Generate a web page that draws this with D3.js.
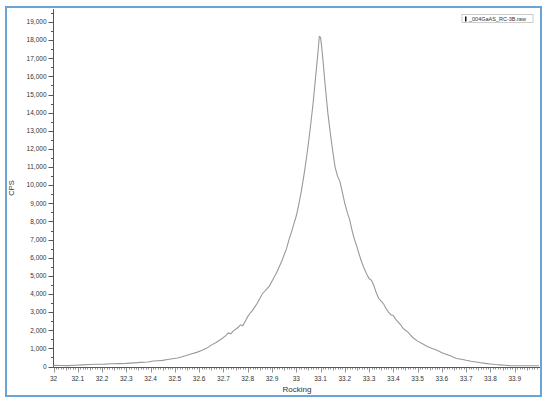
<!DOCTYPE html>
<html>
<head>
<meta charset="utf-8">
<script src="https://cdn.jsdelivr.net/npm/d3@7"></script>
<style>
  body { margin: 0; background: #fff; }
  svg text { font-family: "Liberation Sans", Arial, sans-serif; fill: #333; }
</style>
</head>
<body>
<svg id="chart" width="549" height="402"></svg>
<script>
// rocking curve: angle (deg) and counts
const angle = [32.00, 32.03, 32.06, 32.09, 32.12, 32.15, 32.18, 32.21, 32.24, 32.27,
  32.30, 32.33, 32.36, 32.39, 32.41, 32.43, 32.45, 32.47, 32.49, 32.51,
  32.53, 32.55, 32.57, 32.59, 32.61, 32.63, 32.65, 32.67, 32.69, 32.71,
  32.72, 32.73, 32.74, 32.76, 32.77, 32.78, 32.79, 32.80, 32.81, 32.82,
  32.83, 32.84, 32.85, 32.86, 32.87, 32.88, 32.89, 32.90, 32.91, 32.92,
  32.93, 32.94, 32.95, 32.96, 32.97, 32.98, 32.99, 33.00, 33.01, 33.02,
  33.03, 33.04, 33.05, 33.06, 33.07, 33.08, 33.09, 33.095, 33.10, 33.105,
  33.11, 33.12, 33.13, 33.14, 33.15, 33.16, 33.17, 33.18, 33.19, 33.20,
  33.21, 33.22, 33.23, 33.24, 33.25, 33.26, 33.27, 33.28, 33.29, 33.30,
  33.31, 33.32, 33.33, 33.34, 33.35, 33.36, 33.37, 33.38, 33.39, 33.40,
  33.41, 33.42, 33.43, 33.44, 33.45, 33.46, 33.47, 33.48, 33.50, 33.52,
  33.54, 33.56, 33.58, 33.60, 33.62, 33.64, 33.66, 33.68, 33.70, 33.72,
  33.74, 33.76, 33.78, 33.80, 33.82, 33.84, 33.86, 33.88, 33.90, 33.93,
  33.96, 34.00];
const cps = [60, 55, 50, 70, 90, 110, 120, 130, 150, 160,
  175, 200, 230, 250, 300, 320, 340, 390, 430, 470,
  540, 620, 700, 780, 880, 1000, 1180, 1320, 1500, 1700,
  1850, 1800, 1950, 2150, 2300, 2250, 2500, 2750, 2950, 3100,
  3300, 3500, 3750, 4000, 4150, 4300, 4450, 4700, 4950, 5200,
  5500, 5800, 6150, 6500, 7000, 7400, 7850, 8300, 8900, 9600,
  10400, 11300, 12300, 13400, 14600, 16000, 17400, 18200, 18150, 17600,
  16900, 15400, 14000, 12900, 11900, 11000, 10500, 10200, 9600, 9000,
  8500, 8100, 7500, 7000, 6600, 6150, 5750, 5400, 5100, 4850,
  4750, 4450, 4050, 3750, 3600, 3450, 3200, 3000, 2850, 2800,
  2600, 2450, 2300, 2100, 2000, 1900, 1750, 1600, 1400, 1250,
  1100, 990, 900, 760, 660, 560, 440, 400, 340, 290,
  250, 210, 170, 140, 110, 90, 70, 50, 40, 40,
  45, 40];
const xTickLabels = ["32", "32.1", "32.2", "32.3", "32.4", "32.5", "32.6", "32.7", "32.8", "32.9",
  "33", "33.1", "33.2", "33.3", "33.4", "33.5", "33.6", "33.7", "33.8", "33.9"];
const yTicks = d3.range(0, 19001, 1000);
const legendName = "_004GaAS_RC-3B.raw";

const svg = d3.select("#chart");

// outer frame
svg.append("rect")
  .attr("x", 6).attr("y", 7).attr("width", 535).attr("height", 389)
  .attr("fill", "none").attr("stroke", "#6aa3d6").attr("stroke-width", 2);

const x = d3.scaleLinear().domain([32, 34]).range([53.5, 539]);
const y = d3.scaleLinear().domain([0, 19000]).range([366.5, 22]);
const yTop = 9;

// y axis
const yAxis = svg.append("g").attr("transform", "translate(53.5,0)");
yAxis.append("line").attr("y1", yTop).attr("y2", 367.5).attr("stroke", "#555");
yAxis.selectAll(".minor")
  .data(d3.range(500, y.invert(yTop), 1000))
  .join("line")
  .attr("x1", -2.5).attr("x2", 0)
  .attr("y1", d => Math.round(y(d)) + 0.5).attr("y2", d => Math.round(y(d)) + 0.5)
  .attr("stroke", "#555");
yAxis.selectAll(".major")
  .data(yTicks)
  .join("line")
  .attr("x1", -5).attr("x2", 0)
  .attr("y1", d => Math.round(y(d)) + 0.5).attr("y2", d => Math.round(y(d)) + 0.5)
  .attr("stroke", "#555");
yAxis.selectAll("text")
  .data(yTicks)
  .join("text")
  .attr("x", -7).attr("y", d => y(d))
  .attr("dy", "0.35em")
  .attr("text-anchor", "end")
  .attr("font-size", 6.5)
  .text(d => d3.format(",")(d));

svg.append("text")
  .attr("transform", "translate(14,188) rotate(-90)")
  .attr("text-anchor", "middle")
  .attr("font-size", 7.5)
  .text("CPS");

// x axis
const xAxis = svg.append("g").attr("transform", "translate(0,367.5)");
xAxis.append("line").attr("x1", 53.5).attr("x2", 540).attr("stroke", "#555");
xAxis.selectAll(".minor")
  .data(d3.range(0, 200))
  .join("line")
  .attr("x1", i => Math.round(x(32 + i / 100)) + 0.5)
  .attr("x2", i => Math.round(x(32 + i / 100)) + 0.5)
  .attr("y1", 0).attr("y2", i => i % 10 === 0 ? 5 : (i % 5 === 0 ? 3 : 2))
  .attr("stroke", "#666").attr("stroke-width", 0.7);
xAxis.selectAll("text")
  .data(xTickLabels)
  .join("text")
  .attr("x", d => x(+d)).attr("y", 13)
  .attr("text-anchor", "middle")
  .attr("font-size", 6.5)
  .text(d => d);

svg.append("text")
  .attr("x", 297).attr("y", 392)
  .attr("text-anchor", "middle")
  .attr("font-size", 8)
  .text("Rocking");

// curve
const line = d3.line()
  .x((d, i) => x(angle[i]))
  .y(d => y(d));
svg.append("path")
  .datum(cps)
  .attr("d", line)
  .attr("fill", "none")
  .attr("stroke", "#999")
  .attr("stroke-width", 1.1);

// legend
const legend = svg.append("g").attr("transform", "translate(462,14.5)");
legend.append("rect")
  .attr("width", 71).attr("height", 8)
  .attr("fill", "#fff").attr("stroke", "#aaa").attr("stroke-width", 0.6);
legend.append("rect")
  .attr("x", 3).attr("y", 2).attr("width", 1.5).attr("height", 5)
  .attr("fill", "#111");
legend.append("text")
  .attr("x", 7).attr("y", 6.2)
  .attr("font-size", 5.5)
  .text(legendName);
</script>
</body>
</html>
